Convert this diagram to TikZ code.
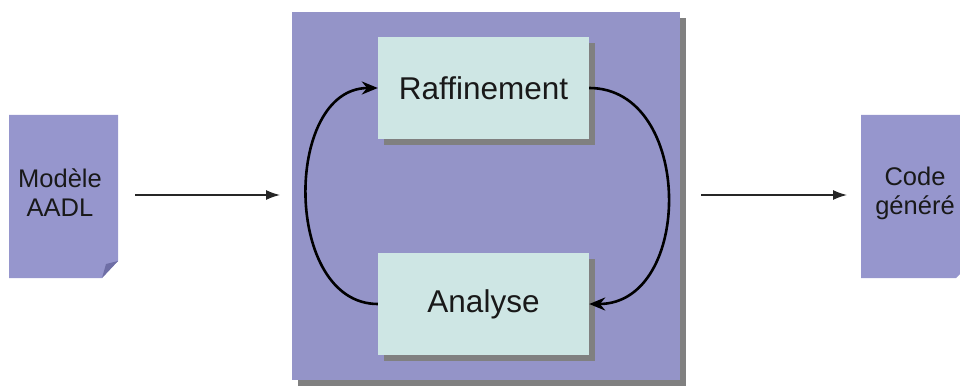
\documentclass[tikz,border=0pt]{standalone}
\usepackage{fontspec}
\setmainfont{Liberation Sans}
\usetikzlibrary{arrows.meta}
\definecolor{procpurple}{RGB}{148,148,200}
\definecolor{docpurple}{RGB}{150,150,205}
\definecolor{foldpurple}{RGB}{110,110,165}
\definecolor{stepcyan}{RGB}{206,230,228}
\definecolor{shadowgray}{RGB}{128,128,128}
\definecolor{textdark}{RGB}{25,25,25}
\tikzset{
  stepbox/.style={fill=stepcyan, draw=none, minimum width=211pt, minimum height=102pt, inner sep=0pt, text=textdark, font=\fontsize{31.5}{36}\selectfont},
  doctext/.style={font=\fontsize{25.5}{29}\selectfont, align=center, inner sep=0pt, text=textdark},
  flow/.style={draw=black!85, line width=1.4pt, -{Latex[length=14pt,width=10pt]}},
  loop/.style={draw=black, line width=2.6pt, -{Stealth[length=16pt,width=13pt]}},
}
\begin{document}
\begin{tikzpicture}[x=1pt,y=-1pt]
\useasboundingbox (0,0) rectangle (960,390);
% left document
\fill[docpurple] (9,115) -- (118,115) -- (118,261) -- (102,278) -- (9,278) -- cycle;
\fill[foldpurple] (118,261) -- (102,278) -- (106,264) -- cycle;
\coordinate (ldocE) at (118,195);
\node[doctext] (ldoc) at (60,193) {Modèle\\AADL};
% right document
\fill[docpurple] (861,115) -- (972,115) -- (972,262) -- (956,278) -- (861,278) -- cycle;
\coordinate (rdocW) at (861,195);
\node[doctext] (rdoc) at (915,193) {Code\\généré};
% central process box
\fill[shadowgray] (298,18) rectangle (686,386);
\fill[procpurple] (292,12) rectangle (680,380);
\coordinate (procW) at (292,195);
\coordinate (procE) at (680,195);
% step boxes with shadows
\fill[shadowgray] (384,43) rectangle (595,145);
\node[stepbox] (raf) at (483.5,88) {Raffinement};
\fill[shadowgray] (384,259) rectangle (595,361);
\node[stepbox] (ana) at (483.5,304) {Analyse};
% loop arrows
\draw[loop] (ana.west) .. controls (283,304) and (283,88) .. (raf.west);
\draw[loop] (raf.east) .. controls (694,88) and (694,304) .. (ana.east);
% flow arrows
\draw[flow, shorten <=17pt, shorten >=12pt] (ldocE) -- (procW);
\draw[flow, shorten <=21pt, shorten >=14pt] (procE) -- (rdocW);
\end{tikzpicture}
\end{document}
